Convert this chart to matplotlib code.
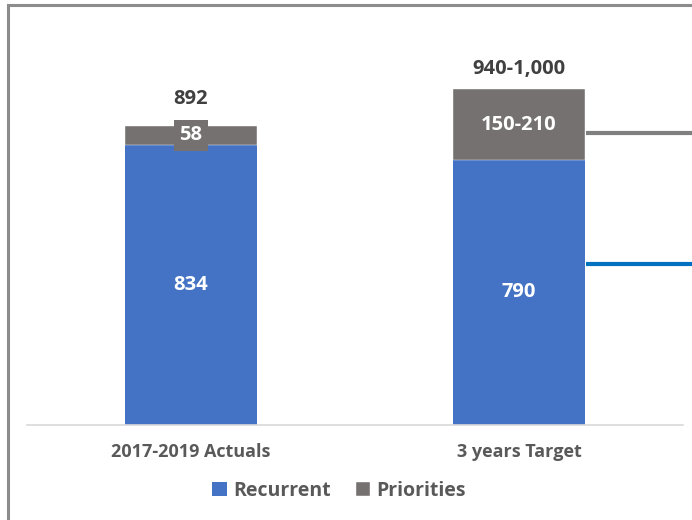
import matplotlib
matplotlib.use("Agg")
import matplotlib.pyplot as plt
from matplotlib.patches import Rectangle

categories = ["2017-2019 Actuals", "3 years Target"]
recurrent = [834, 790]
priorities = [58, 210]
recurrent_labels = ["834", "790"]
priority_labels = ["58", "150-210"]
total_labels = ["892", "940-1,000"]
series_names = ["Recurrent", "Priorities"]

BLUE = "#4472C4"
GRAY = "#767171"
FONT = ["Open Sans", "DejaVu Sans"]

W, H = 692, 520
fig = plt.figure(figsize=(W / 100, H / 100), dpi=100)
fig.patch.set_facecolor("white")

# figure border (top-left visible)
fig.add_artist(Rectangle((7.5 / W, -0.1), 1.2, (H - 5.5) / H + 0.1, transform=fig.transFigure,
                         fill=False, edgecolor="#8c8c8c", linewidth=2.2))

left, right = 27 / W, 683 / W
bottom = (H - 425) / H
top_px = 10
ax = fig.add_axes([left, bottom, right - left, (425 - top_px) / H])
ymax = (425 - top_px) / 0.3355
ax.set_ylim(0, ymax)
ax.set_xlim(-0.5, 1.5)

x = list(range(len(categories)))
width = 0.4
b1 = ax.bar(x, recurrent, width, color=BLUE, label=series_names[0], zorder=2)
b2 = ax.bar(x, priorities, width, bottom=recurrent, color=GRAY, label=series_names[1], zorder=2,
            edgecolor="white", linewidth=0.3)

for i in x:
    ax.text(i, recurrent[i] / 2, recurrent_labels[i], ha="center", va="center",
            color="white", fontsize=14.5, fontweight="bold", family=FONT, zorder=4)
    seg_c = recurrent[i] + priorities[i] / 2
    t = ax.text(i, seg_c, priority_labels[i], ha="center", va="center",
                color="white", fontsize=14.5, fontweight="bold", family=FONT, zorder=4)
    if priorities[i] < 100:
        t.set_bbox(dict(facecolor=GRAY, edgecolor="none", pad=4))
    tot = recurrent[i] + priorities[i]
    off = 27 if i == 0 else 20
    ax.annotate(total_labels[i], (i, tot), xytext=(0, off * 0.72), textcoords="offset points",
                ha="center", va="center", color="#404040", fontsize=14.5, fontweight="bold",
                family=FONT, zorder=4)

# bracket pointer lines to the right of the target bar
xs = 1 + width / 2 + 0.005
ax.plot([xs, 1.6], [870, 870], color="#808080", linewidth=3, clip_on=False, zorder=3,
        solid_capstyle="butt")
ax.plot([xs, 1.6], [481, 481], color="#0070C0", linewidth=3, clip_on=False, zorder=3,
        solid_capstyle="butt")

for s in ["top", "right", "left"]:
    ax.spines[s].set_visible(False)
ax.spines["bottom"].set_color("#d9d9d9")
ax.spines["bottom"].set_linewidth(1.2)
ax.set_yticks([])
ax.set_xticks(x)
ax.set_xticklabels(categories, fontsize=13, fontweight="bold", color="#595959", family=FONT)
ax.tick_params(axis="x", length=0, pad=13)

leg = fig.legend(handles=[b1, b2], labels=series_names, loc="center",
                 bbox_to_anchor=(339 / W, 1 - 491 / H), ncol=2, frameon=False,
                 prop=dict(family=FONT, weight="bold", size=14),
                 handlelength=0.75, handleheight=0.75, handletextpad=0.3, columnspacing=1.3)
for t in leg.get_texts():
    t.set_color("#595959")

fig.savefig("out.png", dpi=100, facecolor="white")
